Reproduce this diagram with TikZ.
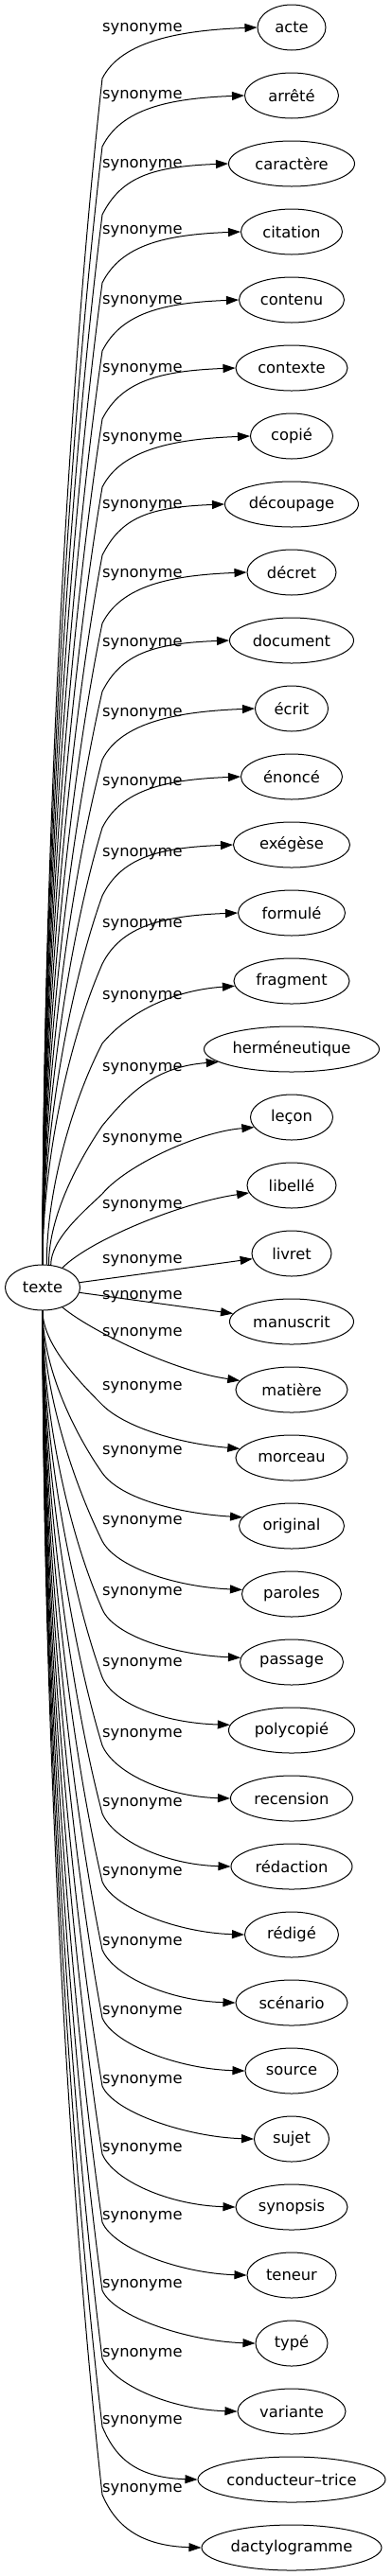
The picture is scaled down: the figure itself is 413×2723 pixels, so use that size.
\documentclass[tikz,border=0pt]{standalone}
\usepackage{fontspec}
\setmainfont{DejaVu Sans}
\usetikzlibrary{shapes.geometric,arrows.meta}

\newcommand{\wordfont}{\fontsize{16.3pt}{19pt}\selectfont}

\tikzset{
  wordnode/.style={draw, ellipse, inner sep=0pt, minimum height=48pt, line width=1pt, font=\wordfont},
  synlabel/.style={anchor=west, inner sep=0pt, font=\wordfont},
  synedge/.style={line width=1pt, -{Triangle[length=13pt,width=9pt]}}
}

\begin{document}
\begin{tikzpicture}[x=1pt,y=-1pt]
  \useasboundingbox (0,0) rectangle (413,2723);
  % centre word
  \node[wordnode, minimum width=79pt] (texte) at (45,1361) {texte};
  % synonyms
  \node[wordnode, minimum width=72pt] (acte) at (308,29) {acte};
  \node[wordnode, minimum width=99pt] (arrete) at (308,101) {arrêté};
  \node[wordnode, minimum width=133pt] (caractere) at (308,173) {caractère};
  \node[wordnode, minimum width=107pt] (citation) at (308,245) {citation};
  \node[wordnode, minimum width=111pt] (contenu) at (308,317) {contenu};
  \node[wordnode, minimum width=118pt] (contexte) at (308,389) {contexte};
  \node[wordnode, minimum width=87pt] (copie) at (308,461) {copié};
  \node[wordnode, minimum width=141pt] (decoupage) at (308,533) {découpage};
  \node[wordnode, minimum width=94pt] (decret) at (308,605) {décret};
  \node[wordnode, minimum width=131pt] (document) at (308,677) {document};
  \node[wordnode, minimum width=77pt] (ecrit) at (308,749) {écrit};
  \node[wordnode, minimum width=107pt] (enonce) at (308,821) {énoncé};
  \node[wordnode, minimum width=123pt] (exegese) at (308,893) {exégèse};
  \node[wordnode, minimum width=113pt] (formule) at (308,965) {formulé};
  \node[wordnode, minimum width=122pt] (fragment) at (308,1037) {fragment};
  \node[wordnode, minimum width=185pt] (hermeneutique) at (308,1109) {herméneutique};
  \node[wordnode, minimum width=87pt] (lecon) at (308,1181) {leçon};
  \node[wordnode, minimum width=94pt] (libelle) at (308,1253) {libellé};
  \node[wordnode, minimum width=84pt] (livret) at (308,1325) {livret};
  \node[wordnode, minimum width=131pt] (manuscrit) at (308,1397) {manuscrit};
  \node[wordnode, minimum width=118pt] (matiere) at (308,1469) {matière};
  \node[wordnode, minimum width=118pt] (morceau) at (308,1541) {morceau};
  \node[wordnode, minimum width=111pt] (original) at (308,1613) {original};
  \node[wordnode, minimum width=105pt] (paroles) at (308,1685) {paroles};
  \node[wordnode, minimum width=109pt] (passage) at (308,1757) {passage};
  \node[wordnode, minimum width=133pt] (polycopie) at (308,1829) {polycopié};
  \node[wordnode, minimum width=129pt] (recension) at (308,1901) {recension};
  \node[wordnode, minimum width=128pt] (redaction) at (308,1973) {rédaction};
  \node[wordnode, minimum width=99pt] (redige) at (308,2045) {rédigé};
  \node[wordnode, minimum width=118pt] (scenario) at (308,2117) {scénario};
  \node[wordnode, minimum width=98pt] (source) at (308,2189) {source};
  \node[wordnode, minimum width=79pt] (sujet) at (308,2261) {sujet};
  \node[wordnode, minimum width=118pt] (synopsis) at (308,2333) {synopsis};
  \node[wordnode, minimum width=94pt] (teneur) at (308,2405) {teneur};
  \node[wordnode, minimum width=76pt] (type) at (308,2477) {typé};
  \node[wordnode, minimum width=114pt] (variante) at (308,2549) {variante};
  \node[wordnode, minimum width=198pt] (conducteur) at (308,2621) {conducteur--trice};
  \node[wordnode, minimum width=190pt] (dactylo) at (308,2693) {dactylogramme};
  % edge labels
  \node[synlabel] (l0) at (108,31) {synonyme};
  \node[synlabel] (l1) at (108,102) {synonyme};
  \node[synlabel] (l2) at (108,175) {synonyme};
  \node[synlabel] (l3) at (108,245) {synonyme};
  \node[synlabel] (l4) at (108,319) {synonyme};
  \node[synlabel] (l5) at (108,391) {synonyme};
  \node[synlabel] (l6) at (108,464) {synonyme};
  \node[synlabel] (l7) at (108,535) {synonyme};
  \node[synlabel] (l8) at (108,608) {synonyme};
  \node[synlabel] (l9) at (108,681) {synonyme};
  \node[synlabel] (l10) at (108,755) {synonyme};
  \node[synlabel] (l11) at (108,828) {synonyme};
  \node[synlabel] (l12) at (108,903) {synonyme};
  \node[synlabel] (l13) at (108,978) {synonyme};
  \node[synlabel] (l14) at (108,1054) {synonyme};
  \node[synlabel] (l15) at (108,1130) {synonyme};
  \node[synlabel] (l16) at (108,1205) {synonyme};
  \node[synlabel] (l17) at (108,1275) {synonyme};
  \node[synlabel] (l18) at (108,1333) {synonyme};
  \node[synlabel] (l19) at (108,1371) {synonyme};
  \node[synlabel] (l20) at (108,1410) {synonyme};
  \node[synlabel] (l21) at (108,1467) {synonyme};
  \node[synlabel] (l22) at (108,1535) {synonyme};
  \node[synlabel] (l23) at (108,1609) {synonyme};
  \node[synlabel] (l24) at (108,1684) {synonyme};
  \node[synlabel] (l25) at (108,1759) {synonyme};
  \node[synlabel] (l26) at (108,1834) {synonyme};
  \node[synlabel] (l27) at (108,1907) {synonyme};
  \node[synlabel] (l28) at (108,1980) {synonyme};
  \node[synlabel] (l29) at (108,2054) {synonyme};
  \node[synlabel] (l30) at (108,2127) {synonyme};
  \node[synlabel] (l31) at (108,2200) {synonyme};
  \node[synlabel] (l32) at (108,2272) {synonyme};
  \node[synlabel] (l33) at (108,2344) {synonyme};
  \node[synlabel] (l34) at (108,2416) {synonyme};
  \node[synlabel] (l35) at (108,2489) {synonyme};
  \node[synlabel] (l36) at (108,2560) {synonyme};
  \node[synlabel] (l37) at (108,2632) {synonyme};
  % bends of the edges
  \coordinate (v0) at (108,83);
  \coordinate (v1) at (108,155);
  \coordinate (v2) at (108,227);
  \coordinate (v3) at (108,299);
  \coordinate (v4) at (108,371);
  \coordinate (v5) at (108,443);
  \coordinate (v6) at (108,515);
  \coordinate (v7) at (108,587);
  \coordinate (v8) at (108,659);
  \coordinate (v9) at (108,731);
  \coordinate (v10) at (108,803);
  \coordinate (v11) at (108,875);
  \coordinate (v12) at (108,947);
  \coordinate (v13) at (108,1019);
  \coordinate (v14) at (108,1103);
  \coordinate (v15) at (108,1190);
  \coordinate (v16) at (108,1262);
  \coordinate (v21) at (108,1485);
  \coordinate (v22) at (108,1557);
  \coordinate (v23) at (108,1629);
  \coordinate (v24) at (108,1701);
  \coordinate (v25) at (108,1773);
  \coordinate (v26) at (108,1845);
  \coordinate (v27) at (108,1917);
  \coordinate (v28) at (108,1989);
  \coordinate (v29) at (108,2061);
  \coordinate (v30) at (108,2133);
  \coordinate (v31) at (108,2205);
  \coordinate (v32) at (108,2277);
  \coordinate (v33) at (108,2349);
  \coordinate (v34) at (108,2421);
  \coordinate (v35) at (108,2493);
  \coordinate (v36) at (108,2565);
  \coordinate (v37) at (108,2637);
  % edges going up
  \draw[synedge] (texte.north) .. controls +(0,-439) and +(-35,314) .. (v0) .. controls +(20,-40) and +(-80,3) .. (acte.west);
  \draw[synedge] (texte.north) .. controls +(0,-414) and +(-35,296) .. (v1) .. controls +(20,-40) and +(-80,3) .. (arrete.west);
  \draw[synedge] (texte.north) .. controls +(0,-389) and +(-35,278) .. (v2) .. controls +(20,-40) and +(-80,3) .. (caractere.west);
  \draw[synedge] (texte.north) .. controls +(0,-363) and +(-35,260) .. (v3) .. controls +(20,-40) and +(-80,3) .. (citation.west);
  \draw[synedge] (texte.north) .. controls +(0,-338) and +(-35,242) .. (v4) .. controls +(20,-40) and +(-80,3) .. (contenu.west);
  \draw[synedge] (texte.north) .. controls +(0,-313) and +(-35,224) .. (v5) .. controls +(20,-40) and +(-80,3) .. (contexte.west);
  \draw[synedge] (texte.north) .. controls +(0,-288) and +(-35,206) .. (v6) .. controls +(20,-40) and +(-80,3) .. (copie.west);
  \draw[synedge] (texte.north) .. controls +(0,-263) and +(-35,188) .. (v7) .. controls +(20,-40) and +(-80,3) .. (decoupage.west);
  \draw[synedge] (texte.north) .. controls +(0,-237) and +(-35,170) .. (v8) .. controls +(20,-40) and +(-80,3) .. (decret.west);
  \draw[synedge] (texte.north) .. controls +(0,-212) and +(-35,152) .. (v9) .. controls +(20,-40) and +(-80,3) .. (document.west);
  \draw[synedge] (texte.north) .. controls +(0,-187) and +(-35,134) .. (v10) .. controls +(20,-40) and +(-80,3) .. (ecrit.west);
  \draw[synedge] (texte.north) .. controls +(0,-162) and +(-35,116) .. (v11) .. controls +(20,-40) and +(-80,3) .. (enonce.west);
  \draw[synedge] (texte.north) .. controls +(0,-137) and +(-35,98) .. (v12) .. controls +(20,-40) and +(-80,3) .. (exegese.west);
  \draw[synedge] (texte.north) .. controls +(0,-111) and +(-35,80) .. (v13) .. controls +(20,-40) and +(-80,3) .. (formule.west);
  \draw[synedge] (texte.80) .. controls +(0,-82) and +(-30,58) .. (v14) .. controls +(25,-30) and +(-70,5) .. (fragment.185);
  \draw[synedge] (texte.75) .. controls +(0,-52) and +(-25,37) .. (v15) .. controls +(25,-30) and +(-70,5) .. (hermeneutique.190);
  \draw[synedge] (texte.70) .. controls +(0,-27) and +(-20,19) .. (v16) .. controls +(25,-30) and +(-60,5) .. (lecon.195);
  \draw[synedge] (texte.45) .. controls +(30,-30) and +(-70,10) .. (libelle.190);
  \draw[synedge] (texte) -- (livret);
  % edges going down
  \draw[synedge] (texte) -- (manuscrit);
  \draw[synedge] (texte.-45) .. controls +(30,25) and +(-70,-10) .. (matiere.170);
  \draw[synedge] (texte.south) .. controls +(0,35) and +(-25,-25) .. (v21) .. controls +(25,25) and +(-60,-5) .. (morceau.170);
  \draw[synedge] (texte.south) .. controls +(0,60) and +(-30,-43) .. (v22) .. controls +(20,28) and +(-65,-4) .. (original.170);
  \draw[synedge] (texte.south) .. controls +(0,85) and +(-30,-61) .. (v23) .. controls +(15,28) and +(-70,-3) .. (paroles.175);
  \draw[synedge] (texte.south) .. controls +(0,111) and +(-35,-79) .. (v24) .. controls +(12,28) and +(-70,-3) .. (passage.175);
  \draw[synedge] (texte.south) .. controls +(0,136) and +(-35,-97) .. (v25) .. controls +(12,28) and +(-70,-2) .. (polycopie.175);
  \draw[synedge] (texte.south) .. controls +(0,161) and +(-35,-115) .. (v26) .. controls +(12,28) and +(-70,-2) .. (recension.west);
  \draw[synedge] (texte.south) .. controls +(0,186) and +(-35,-133) .. (v27) .. controls +(12,28) and +(-70,-2) .. (redaction.west);
  \draw[synedge] (texte.south) .. controls +(0,211) and +(-35,-151) .. (v28) .. controls +(12,28) and +(-70,-2) .. (redige.west);
  \draw[synedge] (texte.south) .. controls +(0,237) and +(-35,-169) .. (v29) .. controls +(12,28) and +(-70,-2) .. (scenario.west);
  \draw[synedge] (texte.south) .. controls +(0,262) and +(-35,-187) .. (v30) .. controls +(12,28) and +(-70,-2) .. (source.west);
  \draw[synedge] (texte.south) .. controls +(0,287) and +(-35,-205) .. (v31) .. controls +(12,28) and +(-70,-2) .. (sujet.west);
  \draw[synedge] (texte.south) .. controls +(0,312) and +(-35,-223) .. (v32) .. controls +(12,28) and +(-70,-2) .. (synopsis.west);
  \draw[synedge] (texte.south) .. controls +(0,337) and +(-35,-241) .. (v33) .. controls +(12,28) and +(-70,-2) .. (teneur.west);
  \draw[synedge] (texte.south) .. controls +(0,363) and +(-35,-259) .. (v34) .. controls +(12,28) and +(-70,-2) .. (type.west);
  \draw[synedge] (texte.south) .. controls +(0,388) and +(-35,-277) .. (v35) .. controls +(12,28) and +(-70,-2) .. (variante.west);
  \draw[synedge] (texte.south) .. controls +(0,413) and +(-35,-295) .. (v36) .. controls +(12,28) and +(-70,-2) .. (conducteur.west);
  \draw[synedge] (texte.south) .. controls +(0,438) and +(-35,-313) .. (v37) .. controls +(12,28) and +(-70,-2) .. (dactylo.west);
\end{tikzpicture}
\end{document}
